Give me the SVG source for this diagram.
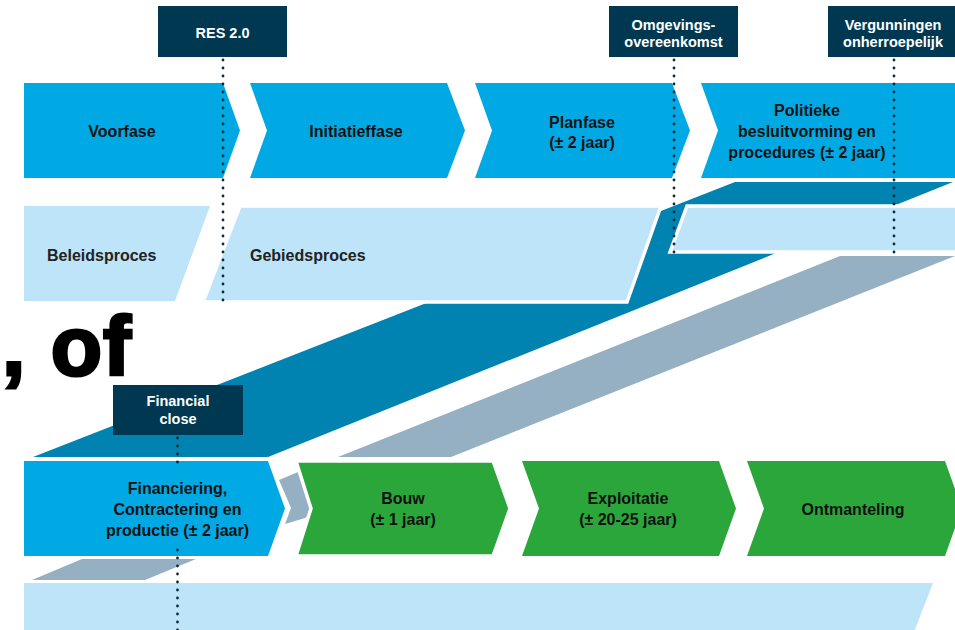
<svg xmlns="http://www.w3.org/2000/svg" width="955" height="630" viewBox="0 0 955 630">
<style>
.chev{fill:#00a9e4}
.green{fill:#2ba63b}
.gb{stroke:#fff;stroke-width:3.5}
.light{fill:#bde4f8}
.lo{stroke:#fff;stroke-width:3.5}
.dark{fill:#0083b0}
.gray{fill:#95b0c2}
.box{fill:#003852}
.t{font-family:"Liberation Sans",Arial,sans-serif;font-weight:bold;font-size:16px;fill:#111;text-anchor:middle}
.tl{font-family:"Liberation Sans",Arial,sans-serif;font-weight:bold;font-size:16px;fill:#222}
.bt{font-family:"Liberation Sans",Arial,sans-serif;font-weight:bold;font-size:14.5px;fill:#fff;text-anchor:middle}
.dot{stroke:#0b2a3a;stroke-width:2.8;stroke-linecap:round;stroke-dasharray:0 8;fill:none}
</style>
<rect width="955" height="630" fill="#fff"/>

<g id="bands">
<polygon class="dark" points="33,457 268,457 953,182 735,182"/>
<polygon class="gray" points="338,457 451,457 960,254 960,256 840,256"/>
<polygon class="gray" points="279,480 298,472 318,508 305,518 285,524 291,508"/>
<polygon class="gray" points="82,559 196,559 145,580 32,580"/>
</g>

<g id="middle-row">
<g id="beleidsproces"><polygon class="light" points="24,206 210,206 175,301 24,301"/><text class="tl" x="47" y="260.5">Beleidsproces</text></g>
<g id="gebiedsproces"><polygon class="light lo" points="240,206 661,206 627,302 203,302"/><text class="tl" x="250" y="260.5">Gebiedsproces</text></g>
<g id="procedure-lane"><polygon class="light lo" points="687,206 960,206 960,252 670,252"/></g>
<g id="bottom-lane"><polygon class="light" points="24,583 933,583 914,632 24,632"/></g>
</g>

<g id="top-row">
<g id="voorfase"><path class="chev" d="M24,83 H223 L240,130.5 L223,178 H24 Z"/><text class="t" x="122" y="136.5">Voorfase</text></g>
<g id="initiatieffase"><path class="chev" d="M250,83 H447 L465,130.5 L447,178 H250 L267,130.5 Z"/><text class="t" x="356" y="136.5">Initiatieffase</text></g>
<g id="planfase"><path class="chev" d="M475,83 H672 L690,130.5 L672,178 H475 L492,130.5 Z"/><text class="t" x="582" y="127.5">Planfase</text><text class="t" x="582" y="148">(± 2 jaar)</text></g>
<g id="politieke"><path class="chev" d="M701,83 H960 V178 H701 L718,130.5 Z"/><text class="t" x="807" y="116">Politieke</text><text class="t" x="807" y="137">besluitvorming en</text><text class="t" x="807" y="158">procedures (± 2 jaar)</text></g>
</g>

<g id="bottom-row">
<g id="financiering"><path class="chev" d="M24,461 H268 L285,508.5 L268,556 H24 Z"/><text class="t" x="177.5" y="494">Financiering,</text><text class="t" x="177.5" y="515">Contractering en</text><text class="t" x="177.5" y="536">productie (± 2 jaar)</text></g>
<g id="bouw"><path class="green gb" d="M296,461 H493 L510,508.5 L493,556 H296 L311,508.5 Z"/><text class="t" x="403" y="504">Bouw</text><text class="t" x="403" y="525">(± 1 jaar)</text></g>
<g id="exploitatie"><path class="green" d="M522,461 H719 L736,508.5 L719,556 H522 L539,508.5 Z"/><text class="t" x="628" y="504">Exploitatie</text><text class="t" x="628" y="525">(± 20-25 jaar)</text></g>
<g id="ontmanteling"><path class="green" d="M747,461 H945 L962,508.5 L945,556 H747 L764,508.5 Z"/><text class="t" x="853" y="514.5">Ontmanteling</text></g>
</g>

<g id="connectors">
<line class="dot" x1="223" y1="60" x2="223" y2="304"/>
<line class="dot" x1="674" y1="60" x2="674" y2="254"/>
<line class="dot" x1="894" y1="60" x2="894" y2="254"/>
<line class="dot" x1="177.5" y1="438" x2="177.5" y2="470"/>
<line class="dot" x1="177.5" y1="550" x2="177.5" y2="632"/>
</g>

<g id="res20"><rect class="box" x="158" y="6" width="129" height="51"/><text class="bt" x="222.5" y="37.5">RES 2.0</text></g>
<g id="omgevingsovereenkomst"><rect class="box" x="609" y="6" width="129" height="51"/><text class="bt" x="673.5" y="30">Omgevings-</text><text class="bt" x="673.5" y="47">overeenkomst</text></g>
<g id="vergunningen"><rect class="box" x="828" y="6" width="130" height="51"/><text class="bt" x="893" y="30">Vergunningen</text><text class="bt" x="893" y="47">onherroepelijk</text></g>
<g id="financial-close"><rect class="box" x="113" y="385" width="130" height="50"/><text class="bt" x="178" y="406">Financial</text><text class="bt" x="178" y="424">close</text></g>

<text x="2" y="375" font-family="'Liberation Sans',Arial,sans-serif" font-weight="bold" font-size="84" fill="#000" stroke="#000" stroke-width="3" letter-spacing="1">, of</text>
</svg>
